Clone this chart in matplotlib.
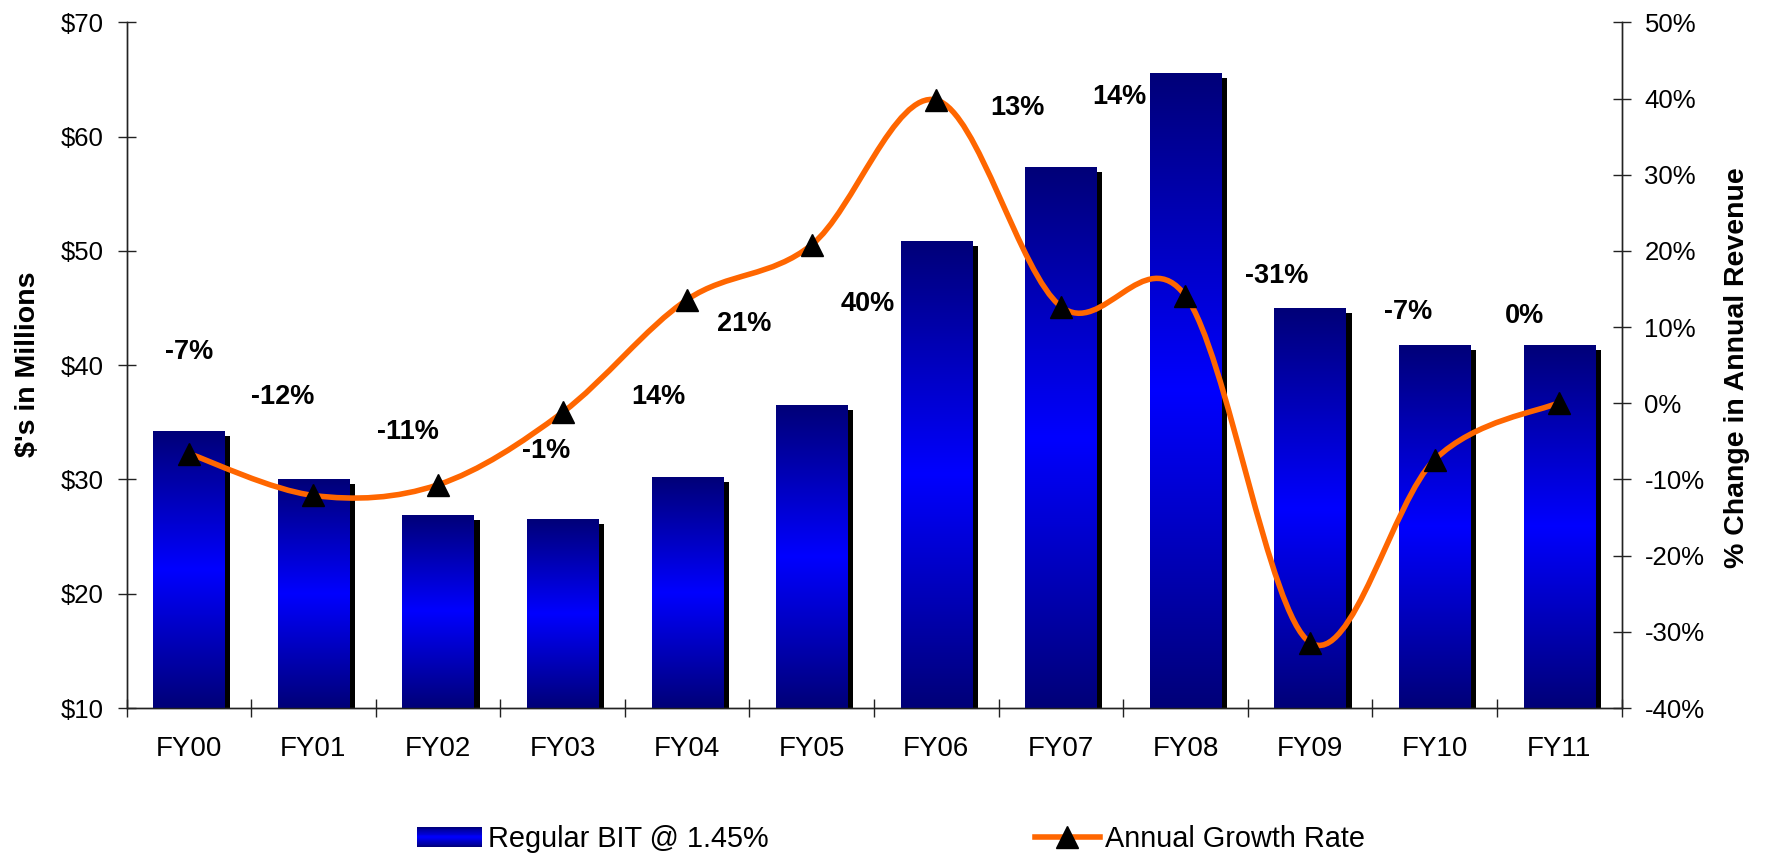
import numpy as np
import matplotlib
matplotlib.use('Agg')
import matplotlib.pyplot as plt
from matplotlib.colors import LinearSegmentedColormap
from matplotlib.patches import Rectangle, PathPatch
from matplotlib.path import Path
from matplotlib.lines import Line2D
from matplotlib.legend_handler import HandlerBase
from matplotlib.transforms import ScaledTranslation

plt.rcParams['font.family'] = ['Liberation Sans', 'DejaVu Sans']

# Data ------------------------------------------------------------------------

years = ['FY00', 'FY01', 'FY02', 'FY03', 'FY04', 'FY05',
         'FY06', 'FY07', 'FY08', 'FY09', 'FY10', 'FY11']
bit_revenue = [34.2, 30.0, 26.9, 26.5, 30.2, 36.5, 50.9, 57.3, 65.6, 45.0, 41.8, 41.8]
growth_rate = [-6.6, -12.1, -10.7, -1.2, 13.6, 20.8, 39.8, 12.7, 14.1, -31.4, -7.4, 0.1]

# where the % labels sit (category units, % axis units)
label_x = [0.0, 0.75, 1.76, 2.87, 3.77, 4.46, 5.45, 6.65, 7.47, 8.73, 9.79, 10.72]
label_y = [6.7, 0.8, -3.8, -6.3, 0.8, 10.4, 13.0, 38.8, 40.2, 16.7, 12.0, 11.4]

y_min, y_max = 10, 70
p_min, p_max = -40, 50

navy = '#000078'
bright = '#0000ff'
orange = '#ff6600'
grad_cmap = LinearSegmentedColormap.from_list('bar', [navy, bright, navy])

# Figure ----------------------------------------------------------------------

fig = plt.figure(figsize=(17.68, 8.55), dpi=100)
ax = fig.add_axes([0.07155, 0.1719, 0.8456, 0.8020])
ax2 = ax.twinx()

x = np.arange(len(years))
bar_w = 0.571

# shadows
shadow_tr = ax.transData + ScaledTranslation(0.06, -0.05, fig.dpi_scale_trans)
ax.bar(x, np.array(bit_revenue) - y_min, bottom=y_min, width=bar_w,
       color='black', transform=shadow_tr, zorder=1)

# gradient bars
bars = ax.bar(x, np.array(bit_revenue) - y_min, bottom=y_min, width=bar_w,
              color=bright, zorder=2)
grad = np.linspace(0, 1, 256).reshape(-1, 1)
for b in bars:
    x0, y0 = b.get_x(), b.get_y()
    im = ax.imshow(grad, extent=(x0, x0 + b.get_width(), y0, y0 + b.get_height()),
                   origin='lower', aspect='auto', cmap=grad_cmap, zorder=3)
    im.set_clip_path(b)

ax.set_xlim(-0.5, len(years) - 0.5)
ax.set_ylim(y_min, y_max)
ax.set_aspect('auto')

# smoothed growth line (bezier through the points, like Excel's smoothing)
pts = np.column_stack([x, growth_rate]).astype(float)
ext = np.vstack([pts[0], pts, pts[-1]])
verts = [tuple(pts[0])]
codes = [Path.MOVETO]
for i in range(len(pts) - 1):
    p0, p1, p2, p3 = ext[i], ext[i + 1], ext[i + 2], ext[i + 3]
    c1 = p1 + (p2 - p0) / 6.0
    c2 = p2 - (p3 - p1) / 6.0
    verts += [tuple(c1), tuple(c2), tuple(p2)]
    codes += [Path.CURVE4] * 3
ax2.add_patch(PathPatch(Path(verts, codes), facecolor='none', edgecolor=orange,
                        lw=4.0, capstyle='round', joinstyle='round', zorder=4))
ax2.plot(x, growth_rate, linestyle='none', marker='^', markersize=16.5,
         color='black', zorder=5)

for lx, ly, v in zip(label_x, label_y, growth_rate):
    r = int(round(v))
    ax2.text(lx, ly, '%d%%' % r, ha='center', va='center',
             fontsize=19.5, fontweight='bold', zorder=6)

ax2.set_ylim(p_min, p_max)

# Axes styling ----------------------------------------------------------------

for a in (ax, ax2):
    a.spines['top'].set_visible(False)
    for s in a.spines.values():
        s.set_linewidth(1.0)
        s.set_color('#222222')

ax.set_yticks(np.arange(y_min, y_max + 1, 10))
ax.set_yticklabels(['$%d' % v for v in range(y_min, y_max + 1, 10)])
ax2.set_yticks(np.arange(p_min, p_max + 1, 10))
ax2.set_yticklabels(['%d%%' % v for v in range(p_min, p_max + 1, 10)])

ax.set_xticks(np.arange(len(years) + 1) - 0.5)
ax.set_xticklabels([])
ax.set_xticks(x, minor=True)
ax.set_xticklabels(years, minor=True)
ax.tick_params(axis='x', which='major', direction='inout', length=12.5, width=1.0,
               color='#222222')
ax.tick_params(axis='x', which='minor', length=0, pad=20, labelsize=20)
ax.tick_params(axis='y', direction='inout', length=13, width=1.0, color='#222222',
               pad=10, labelsize=18.5)
ax2.tick_params(axis='y', direction='inout', length=13, width=1.0, color='#222222',
                pad=10, labelsize=18.5)

fig.text(0.0161, 0.574, "$'s in Millions", rotation=90, ha='center', va='center',
         fontsize=20.5, fontweight='bold')
fig.text(0.9825, 0.5696, '% Change in Annual Revenue', rotation=90, ha='center',
         va='center', fontsize=20.5, fontweight='bold')

# Legend ----------------------------------------------------------------------


class GradientHandler(HandlerBase):
    def create_artists(self, legend, orig_handle, xdescent, ydescent, width,
                       height, fontsize, trans):
        n = 24
        out = []
        for i in range(n):
            out.append(Rectangle((-xdescent, -ydescent + i * height / n), width,
                                 height / n * 1.05, facecolor=grad_cmap((i + 0.5) / n),
                                 edgecolor='none', transform=trans))
        return out


bar_handle = Rectangle((0, 0), 1, 1)
line_handle = Line2D([], [], color=orange, lw=4.0, marker='^', markersize=16.5,
                     markerfacecolor='black', markeredgecolor='black')
fig.legend([bar_handle, line_handle], ['Regular BIT @ 1.45%', 'Annual Growth Rate'],
           handler_map={Rectangle: GradientHandler()},
           loc='center', bbox_to_anchor=(0.5042, 0.0185), ncol=2, frameon=False,
           fontsize=20.8, handlelength=2.25, handletextpad=0.2, columnspacing=9.2)

fig.savefig('out.png', dpi=100)
